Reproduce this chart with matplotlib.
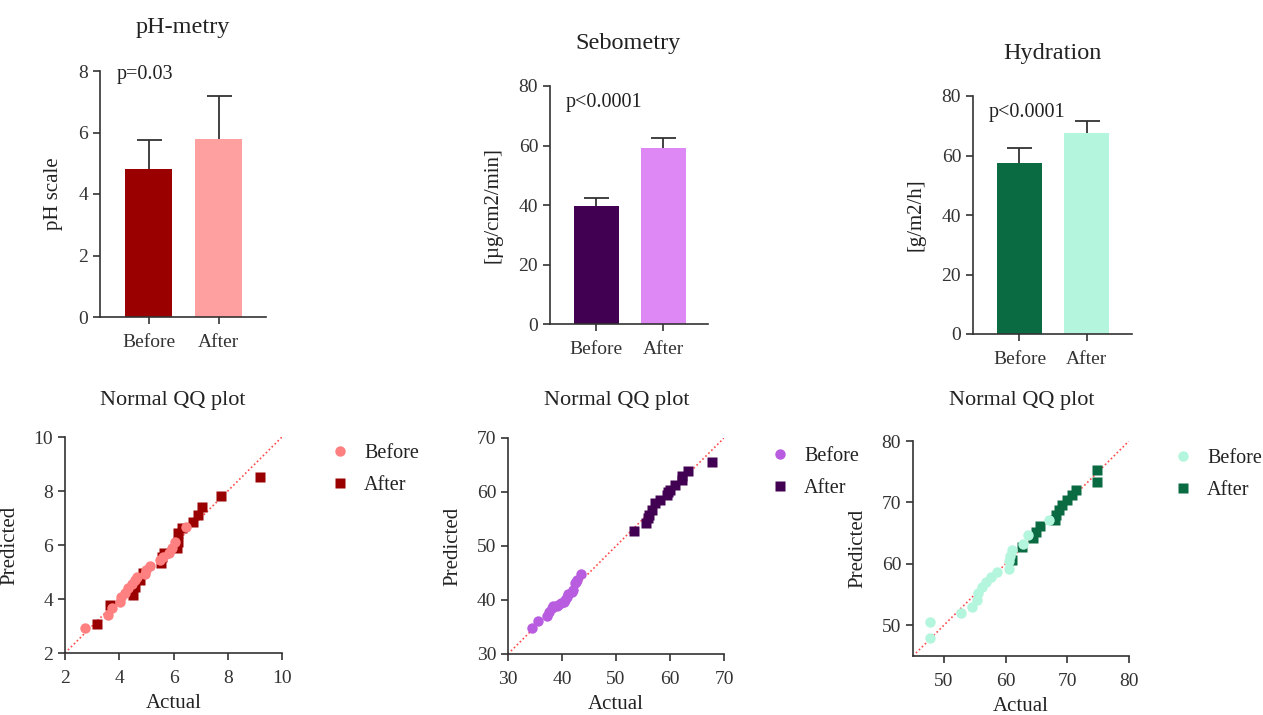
import matplotlib
matplotlib.use("Agg")
import matplotlib.pyplot as plt

plt.rcParams["font.family"] = ["Liberation Serif", "DejaVu Serif"]

W, H = 1263, 715

groups = ["Before", "After"]

# bar charts: mean and error (SD)
ph_mean = [4.8, 5.8]
ph_err = [0.97, 1.4]
seb_mean = [39.8, 59.3]
seb_err = [2.7, 3.1]
hyd_mean = [57.4, 67.7]
hyd_err = [5.0, 3.9]

# QQ plots: (actual, predicted)
ph_before_act = [2.74, 3.60, 3.72, 4.03, 4.05, 4.21, 4.34, 4.46, 4.58, 4.67, 4.95, 5.00,
                 5.14, 5.50, 5.63, 5.85, 5.94, 6.06, 6.46]
ph_before_pred = [2.93, 3.41, 3.68, 3.90, 4.09, 4.24, 4.40, 4.56, 4.70, 4.83, 4.93, 5.07,
                  5.24, 5.44, 5.55, 5.69, 5.88, 6.12, 6.68]
ph_after_act = [3.17, 3.66, 4.52, 4.58, 4.77, 4.89, 5.55, 5.57, 5.65, 6.12, 6.18, 6.18,
                6.31, 6.73, 6.92, 7.04, 7.76, 9.20]
ph_after_pred = [3.06, 3.78, 4.15, 4.46, 4.72, 4.97, 5.32, 5.57, 5.69, 5.88, 6.12, 6.43,
                 6.62, 6.86, 7.12, 7.40, 7.81, 8.53]

seb_before_act = [34.5, 35.5, 37.2, 37.5, 38.1, 38.4, 39.0, 39.3, 39.8, 40.3, 40.6, 41.0,
                  41.2, 41.8, 42.1, 42.4, 42.6, 42.7, 43.5]
seb_before_pred = [34.8, 36.2, 37.0, 37.8, 38.6, 38.8, 38.9, 39.1, 39.4, 39.7, 40.0, 40.6,
                   41.2, 41.5, 41.9, 43.1, 43.4, 43.7, 44.8]
seb_after_act = [53.3, 55.5, 56.0, 56.1, 56.6, 57.2, 58.1, 59.4, 59.7, 60.0, 60.9, 62.2,
                 62.3, 63.4, 67.7]
seb_after_pred = [52.8, 54.3, 55.1, 55.7, 56.7, 57.9, 58.6, 59.4, 60.0, 60.4, 61.3, 62.3,
                  63.0, 63.9, 65.6]

hyd_before_act = [47.8, 47.8, 52.7, 54.6, 55.3, 55.6, 56.1, 56.9, 57.6, 58.6, 60.5, 60.5,
                  60.7, 61.0, 62.9, 63.7, 67.1]
hyd_before_pred = [48.0, 50.6, 52.0, 53.0, 54.1, 55.2, 56.3, 57.1, 57.9, 58.6, 59.1, 60.4,
                   61.2, 62.2, 63.2, 64.7, 67.2]
hyd_after_act = [61.0, 62.6, 64.5, 65.0, 65.6, 68.0, 68.2, 68.6, 69.1, 69.9, 70.7, 71.4,
                 74.8, 74.8]
hyd_after_pred = [60.6, 62.8, 64.2, 65.2, 66.1, 67.2, 68.0, 68.8, 69.6, 70.4, 71.2, 72.1,
                  73.3, 75.2]

spine_col = "#333333"


def rect(left, top, right, bottom):
    return [left / W, 1 - bottom / H, (right - left) / W, (bottom - top) / H]


def style(ax):
    for s in ["top", "right"]:
        ax.spines[s].set_visible(False)
    for s in ["left", "bottom"]:
        ax.spines[s].set_color(spine_col)
        ax.spines[s].set_linewidth(1.2)
    ax.tick_params(colors=spine_col, labelcolor="#333333", labelsize=14,
                   length=5, width=1.2)
    ax.tick_params(axis="x", pad=7)


def bar_panel(r, means, errs, colors, ymax, ystep, ylabel, lab_x, title, title_xy, ptext, p_y):
    ax = fig.add_axes(rect(*r))
    x = [0, 1]
    ax.bar(x, means, width=0.67, color=colors, zorder=2)
    # symmetric error bars drawn behind the bars, so only the upper half shows
    ax.errorbar(x, means, yerr=errs, fmt="none", ecolor=spine_col,
                elinewidth=1.3, capsize=9, capthick=1.3, zorder=1)
    ax.set_xlim(-0.69, 1.67)
    ax.set_ylim(0, ymax)
    ax.set_yticks(range(0, ymax + 1, ystep))
    ax.set_xticks(x)
    ax.set_xticklabels(groups)
    style(ax)
    ax.set_ylabel(ylabel, fontsize=15, color="#222222")
    ax.yaxis.set_label_coords(lab_x, 0.5)
    ax.text(-0.45, p_y, ptext, fontsize=14.5, color="#222222", va="center")
    fig.text(title_xy[0] / W, 1 - title_xy[1] / H, title, fontsize=17.5,
             color="#222222", ha="center", va="center")
    return ax


def qq_panel(r, lo, hi, ticks, bx, by, ax_, ay_, cb, ca, title_xy, leg_xy):
    ax = fig.add_axes(rect(*r))
    ax.plot([lo, hi], [lo, hi], ls=(0, (1, 1.5)), color="#ff4a4a", lw=1.2, zorder=1)
    ax.plot(bx, by, "o", ms=7.5, color=cb, mec="none", label="Before", zorder=3, clip_on=False)
    ax.plot(ax_, ay_, "s", ms=7, color=ca, mec="none", label="After", zorder=2, clip_on=False)
    ax.set_xlim(lo, hi)
    ax.set_ylim(lo, hi)
    ax.set_xticks(ticks)
    ax.set_yticks(ticks)
    style(ax)
    ax.set_xlabel("Actual", fontsize=15, color="#222222")
    ax.set_ylabel("Predicted", fontsize=15, color="#222222")
    ax.xaxis.set_label_coords(0.5, -0.19)
    ax.yaxis.set_label_coords(-0.21, 0.5)
    ax.legend(loc="upper left", bbox_to_anchor=(leg_xy[0] / W, 1 - leg_xy[1] / H),
              bbox_transform=fig.transFigure, frameon=False, fontsize=14.5,
              handlelength=0.8, handletextpad=0.8, labelspacing=0.65,
              borderaxespad=0, borderpad=0, labelcolor="#222222")
    fig.text(title_xy[0] / W, 1 - title_xy[1] / H, "Normal QQ plot", fontsize=16,
             color="#222222", ha="center", va="center")
    return ax


fig = plt.figure(figsize=(W / 100, H / 100), dpi=100)

bar_panel((100, 71, 266, 317), ph_mean, ph_err, ["#9b0000", "#ffa0a0"], 8, 2,
          "pH scale", -0.22, "pH-metry", (183, 28), "p=0.03", 7.9)
bar_panel((550, 86, 708, 324), seb_mean, seb_err, ["#420052", "#dd88f5"], 80, 20,
          "[µg/cm2/min]", -0.30, "Sebometry", (628, 43), "p<0.0001", 74.5)
bar_panel((973, 96, 1132, 334), hyd_mean, hyd_err, ["#0a6a42", "#b3f5dd"], 80, 20,
          "[g/m2/h]", -0.30, "Hydration", (1052, 53), "p<0.0001", 74.5)

qq_panel((65, 437, 282, 653), 2, 10, [2, 4, 6, 8, 10],
         ph_before_act, ph_before_pred, ph_after_act, ph_after_pred,
         "#ff8080", "#9b0000", (173, 400), (332, 444))
qq_panel((508, 438, 724, 654), 30, 70, [30, 40, 50, 60, 70],
         seb_before_act, seb_before_pred, seb_after_act, seb_after_pred,
         "#b85ce0", "#420052", (617, 400), (772, 447))
qq_panel((913, 441, 1129, 656), 45, 80, [50, 60, 70, 80],
         hyd_before_act, hyd_before_pred, hyd_after_act, hyd_after_pred,
         "#b3f5dd", "#0a6a42", (1022, 401), (1175, 449))

fig.savefig("out.png", dpi=100)
